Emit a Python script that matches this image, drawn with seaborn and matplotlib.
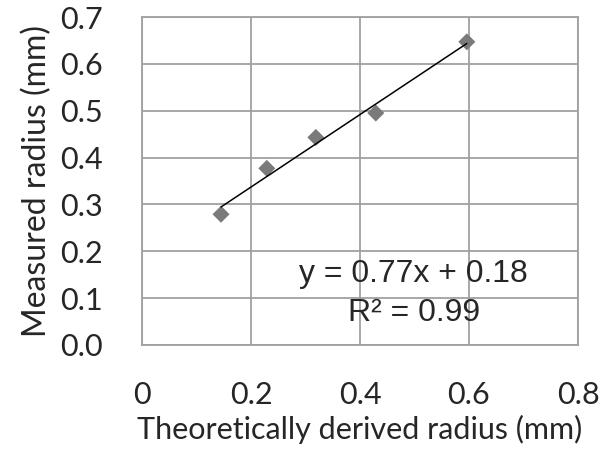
import numpy as np
import matplotlib
matplotlib.use("Agg")
import matplotlib.pyplot as plt
import seaborn as sns

# values
theoretical = [0.145, 0.229, 0.319, 0.429, 0.596]
measured = [0.279, 0.377, 0.443, 0.495, 0.647]
x_ticks = [0, 0.2, 0.4, 0.6, 0.8]
x_tick_labels = ["0", "0.2", "0.4", "0.6", "0.8"]
y_ticks = [0.0, 0.1, 0.2, 0.3, 0.4, 0.5, 0.6, 0.7]
y_tick_labels = ["0.0", "0.1", "0.2", "0.3", "0.4", "0.5", "0.6", "0.7"]
equation = "y = 0.77x + 0.18"
r_squared = "R² = 0.99"

sns.set_theme(style="whitegrid")
plt.rcParams["font.family"] = ["Lato", "DejaVu Sans"]

grid_col = "#a0a0a0"

fig = plt.figure(figsize=(6.14, 4.51), dpi=100)
ax = fig.add_axes([142 / 614, 1 - 345 / 451, 436 / 614, 328 / 451])

sns.regplot(x=theoretical, y=measured, ax=ax, ci=None, truncate=True,
            marker="D",
            scatter_kws={"s": 75, "color": "#7a7a7a", "edgecolor": "none", "alpha": 1},
            line_kws={"color": "black", "lw": 1.1})

ax.set_xlim(0, 0.8)
ax.set_ylim(0, 0.7)
ax.set_xticks(x_ticks)
ax.set_xticklabels(x_tick_labels)
ax.set_yticks(y_ticks)
ax.set_yticklabels(y_tick_labels)
ax.tick_params(axis="x", labelsize=22, pad=26, length=0)
ax.tick_params(axis="y", labelsize=22, pad=28, length=0)
ax.grid(True, color=grid_col, lw=1.3)
for s in ax.spines.values():
    s.set_color(grid_col)
    s.set_linewidth(1.3)

ax.set_xlabel("Theoretically derived radius (mm)", fontsize=22, labelpad=4)
ax.set_ylabel("Measured radius (mm)", fontsize=23, labelpad=6)

# equation of the fitted trendline
ax.text(0.498, 0.134, equation, ha="center", va="baseline", fontsize=23,
        family=["Liberation Sans", "DejaVu Sans"])
ax.text(0.499, 0.052, r_squared, ha="center", va="baseline", fontsize=23,
        family=["Liberation Sans", "DejaVu Sans"])

fig.savefig("out.png", dpi=100)
